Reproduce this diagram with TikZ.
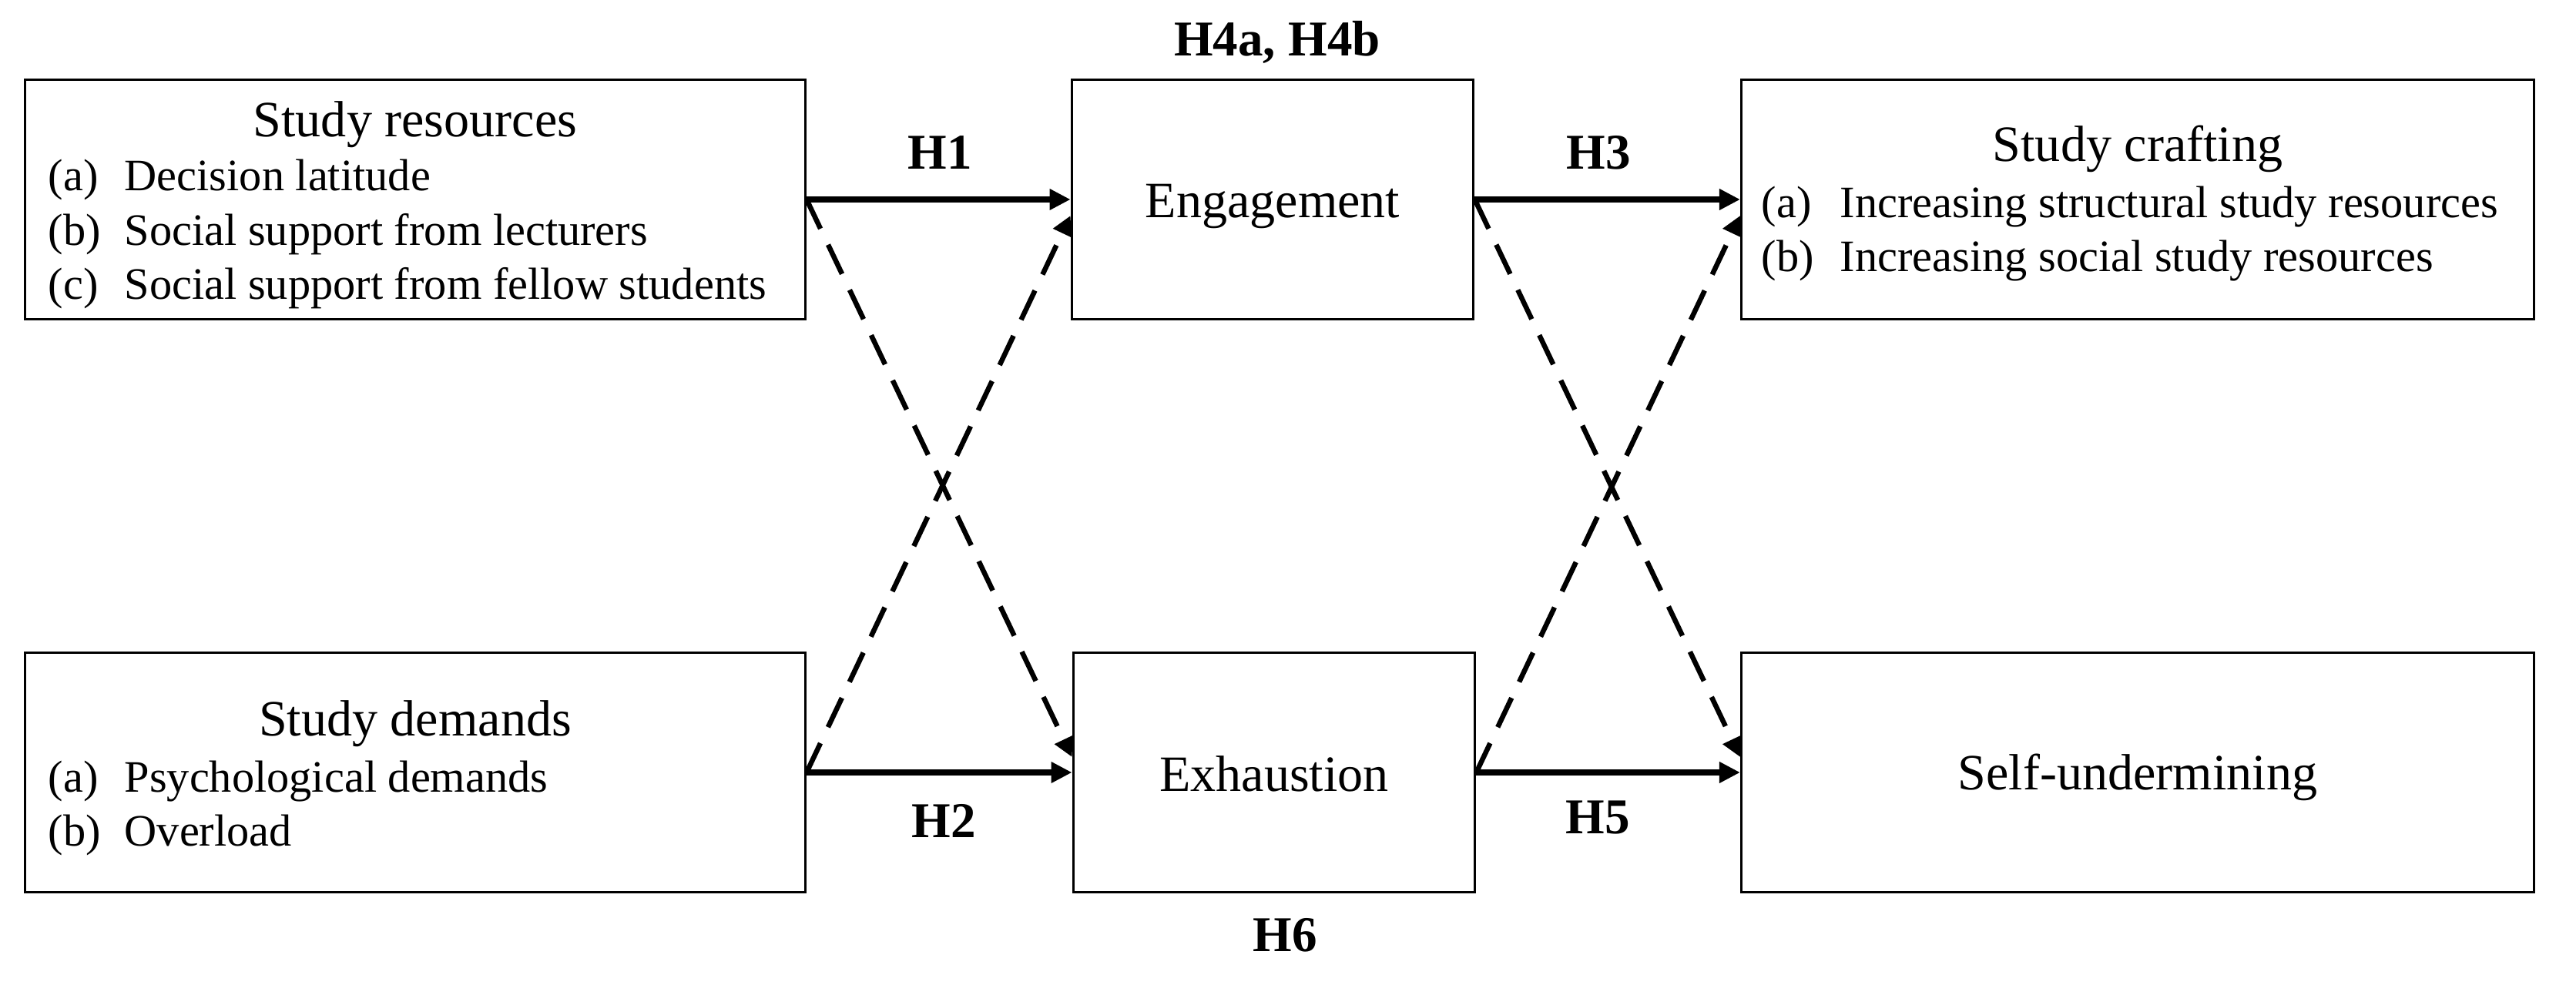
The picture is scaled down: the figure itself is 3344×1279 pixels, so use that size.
\documentclass[tikz,border=0pt]{standalone}
\usepackage{fontspec}
\setmainfont{Liberation Serif}
\usetikzlibrary{arrows.meta}
\begin{document}
\begin{tikzpicture}[x=0.01cm,y=-0.01cm,
  box/.style={draw,line width=1pt,inner sep=0pt,minimum height=3.11cm},
  ttl/.style={anchor=base,inner sep=0pt,font=\fontsize{18.8pt}{22pt}\selectfont},
  itm/.style={anchor=base west,inner sep=0pt,font=\fontsize{16.6pt}{20pt}\selectfont},
  hlab/.style={anchor=base,inner sep=0pt,font=\bfseries\fontsize{18.5pt}{22pt}\selectfont},
  solidarr/.style={line width=0.075cm,-{Triangle[length=0.27cm,width=0.26cm]}},
  dasharr/.style={line width=0.065cm,dash pattern=on 0.42cm off 0.23cm,-{Triangle[length=0.25cm,width=0.25cm]}}]
\useasboundingbox (0,0) rectangle (3344,1279);

% boxes
\node[box,minimum width=10.12cm] (sr) at (539,259) {};
\node[box,minimum width=5.21cm] (eng) at (1652,259) {};
\node[box,minimum width=10.28cm] (sc) at (2775,259) {};
\node[box,minimum width=10.12cm] (sd) at (539,1003) {};
\node[box,minimum width=5.21cm] (exh) at (1654,1003) {};
\node[box,minimum width=10.28cm] (su) at (2775,1003) {};

% box texts
\node[ttl] (srt) at (539,178) {Study resources};
\node[itm] (sra) at (62,248) {(a)};
\node[itm] (sratx) at (161,248) {Decision latitude};
\node[itm] (srb) at (62,318) {(b)};
\node[itm] (srbtx) at (161,318) {Social support from lecturers};
\node[itm] (src) at (62,388) {(c)};
\node[itm] (srctx) at (161,388) {Social support from fellow students};

\node[ttl] (engt) at (1652,283) {Engagement};

\node[ttl] (sct) at (2775,210) {Study crafting};
\node[itm] (sca) at (2286,283) {(a)};
\node[itm] (scatx) at (2388,283) {Increasing structural study resources};
\node[itm] (scb) at (2286,353) {(b)};
\node[itm] (scbtx) at (2388,353) {Increasing social study resources};

\node[ttl] (sdt) at (539,955) {Study demands};
\node[itm] (sda) at (62,1028) {(a)};
\node[itm] (sdatx) at (161,1028) {Psychological demands};
\node[itm] (sdb) at (62,1098) {(b)};
\node[itm] (sdbtx) at (161,1098) {Overload};

\node[ttl] (exht) at (1654,1027) {Exhaustion};
\node[ttl] (sut) at (2775,1025) {Self-undermining};

% hypothesis labels
\node[hlab] (h4) at (1658,73) {H4a, H4b};
\node[hlab] (h1) at (1220,220) {H1};
\node[hlab] (h3) at (2075,220) {H3};
\node[hlab] (h2) at (1225,1087) {H2};
\node[hlab] (h5) at (2074,1082) {H5};
\node[hlab] (h6) at (1668,1235) {H6};

% connectors
\draw[dasharr] (sr.east) -- ([yshift=0.2cm]exh.west);
\draw[dasharr] (sd.east) -- ([yshift=-0.21cm]eng.west);
\draw[dasharr] (eng.east) -- ([yshift=0.2cm]su.west);
\draw[dasharr] (exh.east) -- ([yshift=-0.21cm]sc.west);
\draw[solidarr] (sr.east) -- (eng.west);
\draw[solidarr] (eng.east) -- (sc.west);
\draw[solidarr] (sd.east) -- (exh.west);
\draw[solidarr] (exh.east) -- (su.west);
\end{tikzpicture}
\end{document}
